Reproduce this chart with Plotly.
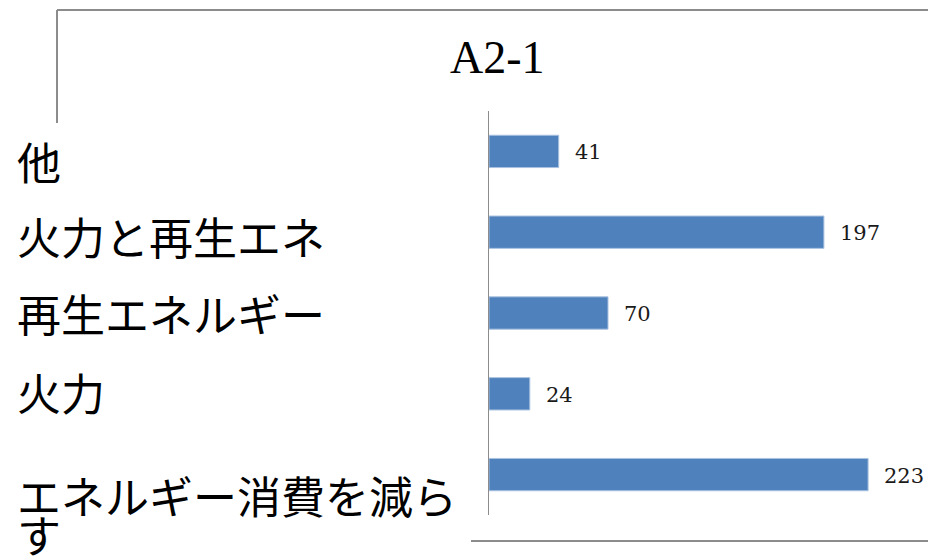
import plotly.graph_objects as go

# --- data (listed bottom to top, as plotly stacks horizontal categories) ---
categories = ["エネルギー消費を減らす", "火力", "再生エネルギー", "火力と再生エネ", "他"]
values = [223, 24, 70, 197, 41]
title_text = "A2-1"

# --- layout geometry (pixels) ---
W, H = 928, 559
M_L, M_R, M_T, M_B = 489, 0, 111, 44
PLOT_W = W - M_L - M_R
PLOT_H = H - M_T - M_B
PX_PER_UNIT = 1.70

# category label wrapping and vertical nudges (px, positive = down)
label_lines = {
    "エネルギー消費を減らす": ["エネルギー消費を減ら", "す"],
}
label_nudge = {"他": 10, "火力と再生エネ": 4, "再生エネルギー": 0, "火力": -2,
               "エネルギー消費を減らす": 20}
LINE_STEP = 39


def px_x(px):
    return (px - M_L) / PLOT_W


def px_y(py):
    return (H - M_B - py) / PLOT_H


BAR_BLUE = "#4F81BD"
FRAME_GREY = "#8C8C8C"
SERIF = "Liberation Serif, DejaVu Serif, serif"
NUM_SERIF = "DejaVu Serif, Liberation Serif, serif"
CJK = "Noto Sans CJK JP, Noto Sans, sans-serif"

fig = go.Figure(
    go.Bar(
        x=values,
        y=categories,
        orientation="h",
        marker=dict(color=BAR_BLUE, line=dict(color="#A9C2E0", width=1)),
        hoverinfo="x+y",
    )
)

annotations = []
# value labels to the right of each bar
for cat, val in zip(categories, values):
    annotations.append(dict(
        x=val, y=cat, xref="x", yref="y", text=str(val), showarrow=False,
        xanchor="left", yanchor="middle", xshift=14, yshift=-1,
        font=dict(family=NUM_SERIF, size=21, color="#1a1a1a"),
    ))

# category labels, left-aligned at the page edge
for cat in categories:
    lines = label_lines.get(cat, [cat])
    for i, line in enumerate(lines):
        annotations.append(dict(
            x=px_x(15), y=cat, xref="paper", yref="y", text=line,
            showarrow=False, xanchor="left", yanchor="middle",
            yshift=-(label_nudge.get(cat, 0) + i * LINE_STEP),
            font=dict(family=CJK, size=44, color="#000000"),
        ))

# chart title
annotations.append(dict(
    x=px_x(497), y=px_y(57), xref="paper", yref="paper", text=title_text,
    showarrow=False, xanchor="center", yanchor="middle",
    font=dict(family=SERIF, size=46, color="#000000"),
))

frame = dict(type="line", xref="paper", yref="paper",
             line=dict(color=FRAME_GREY, width=2))
shapes = [
    dict(frame, x0=px_x(57), x1=px_x(W + 5), y0=px_y(10), y1=px_y(10)),
    dict(frame, x0=px_x(57), x1=px_x(57), y0=px_y(10), y1=px_y(123)),
    dict(frame, x0=px_x(471), x1=px_x(W + 5), y0=px_y(541), y1=px_y(541)),
]

fig.update_layout(
    width=W, height=H,
    margin=dict(l=M_L, r=M_R, t=M_T, b=M_B, pad=0),
    paper_bgcolor="white", plot_bgcolor="white",
    showlegend=False,
    bargap=0.6,
    annotations=annotations,
    shapes=shapes,
    xaxis=dict(range=[0, PLOT_W / PX_PER_UNIT], visible=False, fixedrange=True),
    yaxis=dict(type="category", categoryorder="array", categoryarray=categories,
               range=[-0.5, len(categories) - 0.5], autorange=False,
               showticklabels=False, ticks="", showgrid=False, zeroline=False,
               showline=True, linecolor=FRAME_GREY, linewidth=1, fixedrange=True),
)

fig.write_html("out.html")
